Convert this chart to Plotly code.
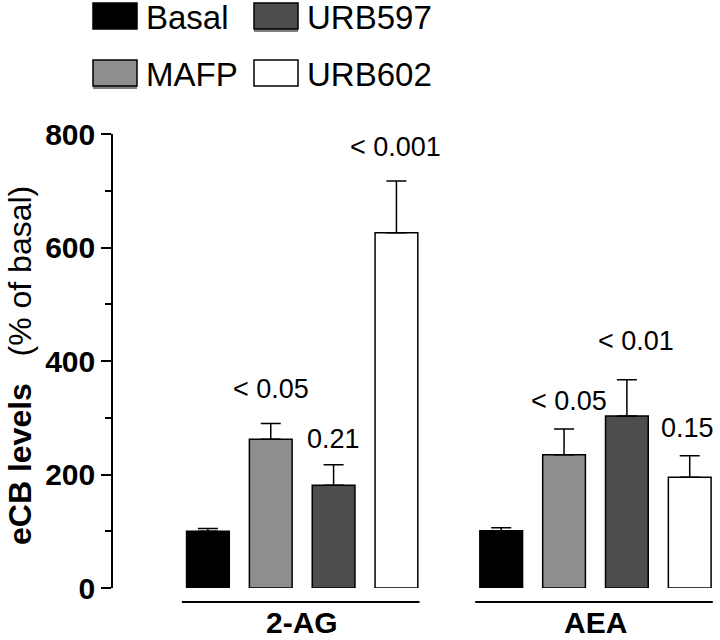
import plotly.graph_objects as go

groups = ["2-AG", "AEA"]
series = ["Basal", "MAFP", "URB597", "URB602"]
colors = ["#000000", "#8e8e8e", "#4d4d4d", "#ffffff"]
values = {
    "Basal": [100, 101],
    "MAFP": [262, 235],
    "URB597": [181, 303],
    "URB602": [626, 195],
}
errors = {
    "Basal": [5, 5],
    "MAFP": [28, 45],
    "URB597": [36, 64],
    "URB602": [91, 38],
}
pvalues = {
    "Basal": ["", ""],
    "MAFP": ["< 0.05", "< 0.05"],
    "URB597": ["0.21", "< 0.01"],
    "URB602": ["< 0.001", "0.15"],
}
yticks = [0, 200, 400, 600, 800]
legend_rows = [["Basal", "URB597"], ["MAFP", "URB602"]]

# label nudges in pixels (style only): (dx, dy-up)
label_nudge = {
    "MAFP": [(0, 17), (5, 11)],
    "URB597": [(0, 9), (9, 22)],
    "URB602": [(-1, 17), (-2, 11)],
}

FONT = "Liberation Sans, Arial, sans-serif"
W, H = 720, 640
ML, MR, MT, MB = 113, 0, 134, 52
PW, PH = W - ML - MR, H - MT - MB
BARGAP = 0.143
BARGROUPGAP = 0.32
slot = (1 - BARGAP) / len(series)


def px_x(px):
    return (px - ML) / PW


def px_y(py):
    return (H - MB - py) / PH


fig = go.Figure()
for j, s in enumerate(series):
    fig.add_trace(go.Bar(
        name=s, x=groups, y=values[s],
        marker=dict(color=colors[j], line=dict(color="black", width=1.5)),
        error_y=dict(type="data", array=errors[s], arrayminus=[0] * len(groups),
                     symmetric=False, color="black", thickness=1.5, width=10),
        showlegend=False,
    ))

annotations = []
for gi, g in enumerate(groups):
    for j, s in enumerate(series):
        t = pvalues[s][gi]
        if not t:
            continue
        dx, dy = label_nudge[s][gi]
        annotations.append(dict(
            x=gi + (j - 1.5) * slot, y=values[s][gi] + errors[s][gi],
            xref="x", yref="y", text=t, showarrow=False,
            yanchor="bottom", xanchor="center", xshift=dx, yshift=dy,
            font=dict(family=FONT, size=27, color="black"),
        ))

shapes = []
for gi, g in enumerate(groups):
    shapes.append(dict(type="line", xref="x", yref="paper",
                       x0=gi - 0.41, x1=gi + 0.40, y0=px_y(602), y1=px_y(602),
                       line=dict(color="black", width=2)))
    annotations.append(dict(x=gi, y=px_y(622), xref="x", yref="paper", text=f"<b>{g}</b>",
                            showarrow=False, xanchor="center", yanchor="middle",
                            font=dict(family=FONT, size=30, color="black")))

# manual legend
col_x = [93, 254]
row_y = [3, 60]
for r, row in enumerate(legend_rows):
    for c, s in enumerate(row):
        j = series.index(s)
        x0, y0 = col_x[c], row_y[r]
        if colors[j] not in ("#000000", "#ffffff"):
            shapes.append(dict(type="rect", xref="paper", yref="paper",
                               x0=px_x(x0), x1=px_x(x0 + 44), y0=px_y(y0 + 3), y1=px_y(y0 + 29),
                               fillcolor="#808080", line=dict(width=0)))
        shapes.append(dict(type="rect", xref="paper", yref="paper",
                           x0=px_x(x0), x1=px_x(x0 + 44), y0=px_y(y0), y1=px_y(y0 + 26),
                           fillcolor=colors[j], line=dict(color="black", width=1.5)))
        annotations.append(dict(x=px_x(x0 + 51), y=px_y(y0 + 14), xref="paper", yref="paper",
                                text=s, showarrow=False, xanchor="left", yanchor="middle",
                                font=dict(family=FONT, size=33, color="black")))

annotations.append(dict(x=px_x(20), y=px_y(366), xref="paper", yref="paper",
                        text="<b>eCB levels</b>   (% of basal)", textangle=-90,
                        showarrow=False, xanchor="center", yanchor="middle",
                        font=dict(family=FONT, size=32, color="black")))

fig.update_layout(
    width=W, height=H,
    margin=dict(l=ML, r=MR, t=MT, b=MB),
    paper_bgcolor="white", plot_bgcolor="white",
    barmode="group", bargap=BARGAP, bargroupgap=BARGROUPGAP,
    showlegend=False,
    shapes=shapes, annotations=annotations,
    xaxis=dict(visible=False, range=[-0.645, 1.4246]),
    yaxis=dict(range=[0, 800], tickvals=yticks, ticks="outside", ticklen=10,
               tickwidth=1.5, tickcolor="black", showline=True, linewidth=1.5,
               linecolor="black", showgrid=False, zeroline=False,
               tickfont=dict(family=FONT, size=30, color="black", weight="bold"),
               minor=dict(dtick=100, ticks="outside", ticklen=6, tickwidth=1.5,
                          tickcolor="black", showgrid=False)),
)

fig.write_html("out.html", config={"displayModeBar": False},
               post_script="document.body.style.margin='0';document.body.style.overflow='hidden';")
